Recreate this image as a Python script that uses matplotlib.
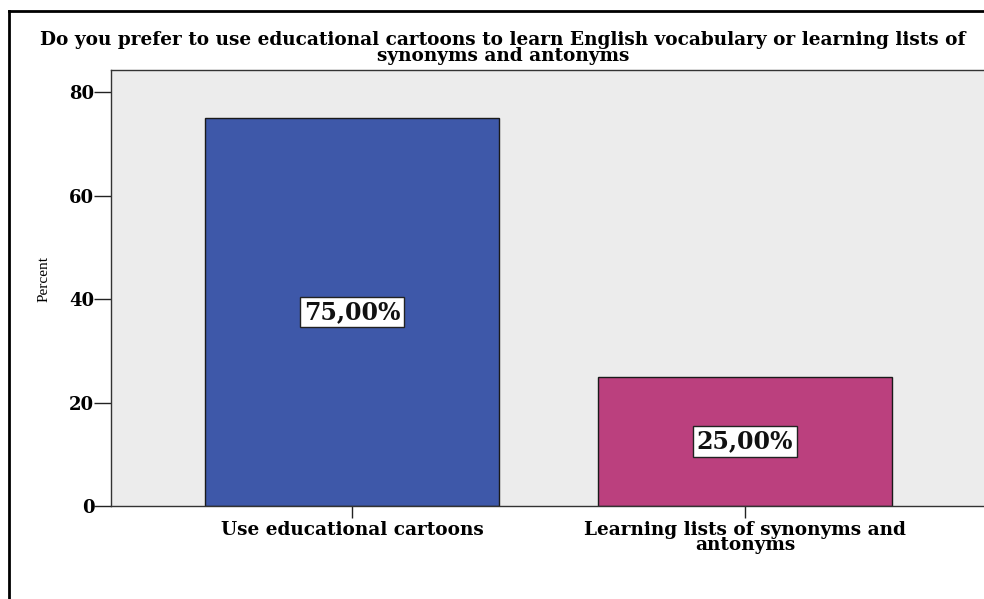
import matplotlib
matplotlib.use("Agg")
import matplotlib.pyplot as plt
from matplotlib.lines import Line2D

# Survey responses (percent of respondents)
categories = ["Use educational cartoons", "Learning lists of synonyms and\nantonyms"]
percents = [75.0, 25.0]
value_labels = ["75,00%", "25,00%"]
bar_colors = ["#3E58A9", "#BB407E"]
y_ticks = [0, 20, 40, 60, 80]
title = ("Do you prefer to use educational cartoons to learn English vocabulary or learning lists of\n"
         "synonyms and antonyms")

W, H = 984, 599
fig = plt.figure(figsize=(W / 100, H / 100), dpi=100)
fig.patch.set_facecolor("white")

left_px, right_px, top_px, bottom_px = 111, 986, 70, 506
ax = fig.add_axes([left_px / W, 1 - bottom_px / H,
                   (right_px - left_px) / W, (bottom_px - top_px) / H])
ax.set_facecolor("#ECECEC")

x = list(range(len(categories)))
ax.bar(x, percents, width=0.75, color=bar_colors, edgecolor="#1a1a1a",
       linewidth=1.0, zorder=2)

for xi, v, lab in zip(x, percents, value_labels):
    ax.text(xi, v / 2, lab, ha="center", va="center", fontsize=17,
            fontweight="bold", family="DejaVu Serif", color="#111111",
            bbox=dict(boxstyle="square,pad=0.14", facecolor="white",
                      edgecolor="#222222", linewidth=1.0), zorder=3)

ax.set_xlim(-0.613, 1.613)
ax.set_ylim(0, 84.3)
ax.set_yticks(y_ticks)
ax.set_yticklabels([str(t) for t in y_ticks], family="DejaVu Serif",
                   fontweight="bold", fontsize=13)
ax.set_xticks(x)
ax.set_xticklabels(categories, family="DejaVu Serif", fontweight="bold",
                   fontsize=13.3, linespacing=0.85)
ax.tick_params(axis="y", length=12, width=1.0, pad=0, color="#222222")
ax.tick_params(axis="x", length=8.5, width=1.0, pad=2, color="#222222")

for s in ax.spines.values():
    s.set_color("#333333")
    s.set_linewidth(1.0)

ax.set_ylabel("Percent", family="Liberation Serif", fontsize=11)
ax.yaxis.set_label_coords(-0.069, 0.52)

fig.text(503 / W, 1 - 48 / H, title, ha="center", va="center",
         family="DejaVu Serif", fontweight="bold", fontsize=13.3,
         linespacing=0.85)

# outer frame around the chart
fig.add_artist(Line2D([9 / W, 9 / W], [0, 1 - 11 / H], transform=fig.transFigure,
                      color="black", linewidth=2.0))
fig.add_artist(Line2D([9 / W, 1.0], [1 - 11 / H, 1 - 11 / H], transform=fig.transFigure,
                      color="black", linewidth=2.0))

fig.savefig("out.png", dpi=100)
